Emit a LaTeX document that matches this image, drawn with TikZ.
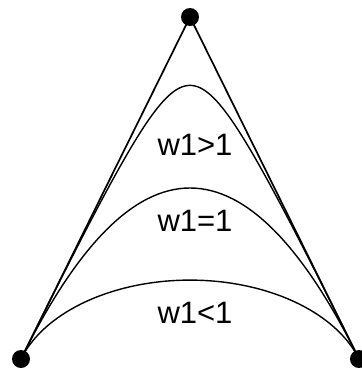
\documentclass[tikz,border=0pt]{standalone}
\usepackage{fontspec}
\setmainfont{Liberation Sans}
\usetikzlibrary{positioning,calc}

% rational quadratic curve from (21,359) over (190,17) to (359,359), weight #1
\newcommand{\ratcurve}[1]{%
  plot[domain=0:1, samples=120, smooth, variable=\t]
  ({(21*(1-\t)^2 + 2*#1*190*\t*(1-\t) + 359*\t^2)/((1-\t)^2 + 2*#1*\t*(1-\t) + \t^2)},
   {(359*(1-\t)^2 + 2*#1*17*\t*(1-\t) + 359*\t^2)/((1-\t)^2 + 2*#1*\t*(1-\t) + \t^2)})}

\begin{document}
\begin{tikzpicture}[x=1pt, y=-1pt,
    ctrl/.style={circle, fill=black, inner sep=0pt, minimum size=18pt},
    hull/.style={line width=1.7pt},
    curve/.style={line width=1.4pt},
    lbl/.style={font=\fontsize{31}{35}\selectfont, inner sep=0pt},
]
    \useasboundingbox (0,0) rectangle (362,368);

    \node[ctrl] (p0) at (21,359) {};
    \node[ctrl] (p1) at (190,17) {};
    \node[ctrl] (p2) at (359,359) {};

    \draw[hull] (p0.center) -- (p1.center) -- (p2.center);

    \draw[curve] \ratcurve{4};
    \draw[curve] (p0.center) .. controls ($(p0.center)!2/3!(p1.center)$) and ($(p2.center)!2/3!(p1.center)$) .. (p2.center);
    \draw[curve] \ratcurve{0.3};

    \node[lbl] (wgt) at (195,145) {w1>1};
    \node[lbl] (weq) at (195,221) {w1=1};
    \node[lbl] (wlt) at (195,313) {w1<1};
\end{tikzpicture}
\end{document}
